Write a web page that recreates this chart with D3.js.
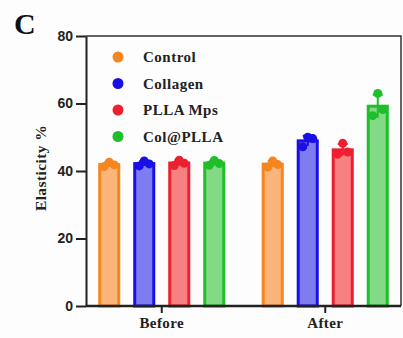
<!DOCTYPE html>
<html>
<head>
<meta charset="utf-8">
<script src="https://cdn.jsdelivr.net/npm/d3@7"></script>
<style>
  body { margin: 0; background: #fdfdfd; }
  svg { display: block; }
</style>
</head>
<body>
<svg id="chart" width="403" height="338"></svg>
<script>
// groups on the x axis and the four treatments
var groups = ["Before", "After"];
var series = ["Control", "Collagen", "PLLA Mps", "Col@PLLA"];

// replicate values (elasticity %), one array per series, [before, after]
var control  = [[41.3, 41.8, 42.6], [41.2, 41.9, 43.0]];
var collagen = [[41.5, 42.1, 43.0], [47.2, 49.6, 50.0]];
var plla     = [[41.6, 42.3, 43.2], [45.0, 45.6, 48.2]];
var colPlla  = [[41.7, 42.2, 43.1], [56.4, 58.2, 63.0]];

var yTicks = [0, 20, 40, 60, 80];

var strokeCols = ["#f5861f", "#1a10e6", "#ee1f2e", "#1fbf2a"];
var fillCols   = ["#fbb57a", "#7f7cf2", "#f78080", "#84d987"];

var allSeries = [control, collagen, plla, colPlla];

var svg = d3.select("#chart"),
  plotLeft = 86, plotRight = 401, plotTop = 36, plotBottom = 306;

var x0 = d3.scaleBand().domain(groups).range([80, 407]).padding(0);
var x1 = d3.scaleBand().domain(series).range([0, x0.bandwidth()])
  .paddingInner(0.37).paddingOuter(0.52);
var y = d3.scaleLinear().domain([0, 80]).range([plotBottom, plotTop]);

var serif = "'Liberation Serif', 'Times New Roman', serif";
var sans = "'Liberation Sans', Arial, sans-serif";

// panel letter
svg.append("text")
  .attr("x", 14).attr("y", 34)
  .attr("font-family", serif).attr("font-weight", "bold")
  .attr("font-size", 30).attr("fill", "#111")
  .text("C");

// frame (top and right)
svg.append("path")
  .attr("d", "M" + plotLeft + "," + plotTop + "H" + plotRight + "V" + plotBottom)
  .attr("fill", "none").attr("stroke", "#333").attr("stroke-width", 1.5);

// bars, error bars, points
var jitter = [-5, 5, 0];
allSeries.forEach(function(s, si) {
  groups.forEach(function(g, gi) {
    var vals = s[gi];
    var m = d3.mean(vals), sd = d3.deviation(vals);
    var bx = x0(g) + x1(series[si]), bw = x1.bandwidth();
    svg.append("rect")
      .attr("x", bx + 1.5).attr("y", y(m))
      .attr("width", bw - 3).attr("height", y(0) - y(m))
      .attr("fill", fillCols[si])
      .attr("stroke", strokeCols[si]).attr("stroke-width", 3);
    var cx = bx + bw / 2;
    svg.append("path")
      .attr("d", "M" + cx + "," + y(m - sd) + "V" + y(m + sd) +
        "M" + (cx - 5) + "," + y(m + sd) + "H" + (cx + 5))
      .attr("stroke", strokeCols[si]).attr("stroke-width", 2).attr("fill", "none");
    svg.selectAll(null).data(vals).enter().append("circle")
      .attr("cx", function(d, i) { return cx + jitter[i]; })
      .attr("cy", function(d) { return y(d); })
      .attr("r", 4.5)
      .attr("fill", strokeCols[si]);
  });
});

// y axis
var yAxis = svg.append("g")
  .attr("transform", "translate(" + plotLeft + ",0)")
  .call(d3.axisLeft(y).tickValues(yTicks).tickSize(10).tickSizeOuter(0));
yAxis.select(".domain").attr("stroke", "#222").attr("stroke-width", 2);
yAxis.selectAll(".tick line").attr("stroke", "#222").attr("stroke-width", 2);
yAxis.selectAll(".tick text")
  .attr("font-family", sans).attr("font-weight", "bold")
  .attr("font-size", 14).attr("fill", "#222").attr("x", -13);

// x axis
var xAxis = svg.append("g")
  .attr("transform", "translate(0," + plotBottom + ")")
  .call(d3.axisBottom(x0).tickSize(7).tickSizeOuter(0));
xAxis.select(".domain").attr("d", "M" + plotLeft + ",0H" + plotRight)
  .attr("stroke", "#222").attr("stroke-width", 2.5);
xAxis.selectAll(".tick line").attr("stroke", "#222").attr("stroke-width", 2);
xAxis.selectAll(".tick text")
  .attr("font-family", serif).attr("font-weight", "bold")
  .attr("font-size", 15).attr("letter-spacing", 0.4)
  .attr("fill", "#222").attr("y", 11);

// y label
svg.append("text")
  .attr("transform", "translate(46,168) rotate(-90)")
  .attr("text-anchor", "middle")
  .attr("font-family", serif).attr("font-weight", "bold")
  .attr("font-size", 15.5).attr("letter-spacing", 0.4).attr("fill", "#222")
  .text("Elasticity %");

// legend
var legend = svg.append("g");
series.forEach(function(s, i) {
  var ly = 57 + i * 26.5;
  legend.append("circle").attr("cx", 118).attr("cy", ly).attr("r", 5.5)
    .attr("fill", strokeCols[i]);
  legend.append("text").attr("x", 143).attr("y", ly + 5)
    .attr("font-family", serif).attr("font-weight", "bold")
    .attr("font-size", 15).attr("letter-spacing", 0.5).attr("fill", "#222")
    .text(s);
});
</script>
</body>
</html>
